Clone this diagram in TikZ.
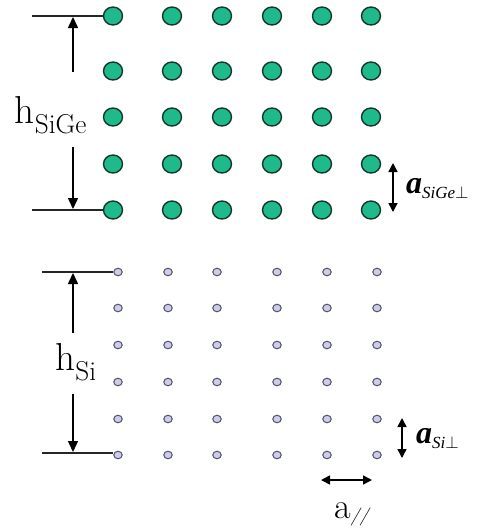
\documentclass[tikz,border=0pt]{standalone}
\usepackage{fontspec}
\newfontfamily\timesf{Liberation Serif}
\usetikzlibrary{arrows.meta,shapes.geometric}
\definecolor{sigegreen}{RGB}{30,186,140}
\definecolor{sigeedge}{RGB}{20,55,40}
\definecolor{silav}{RGB}{205,205,235}
\definecolor{siedge}{RGB}{80,80,105}
\tikzset{
  gdot/.style={ellipse,draw=sigeedge,fill=sigegreen,line width=1.4pt,minimum width=19pt,minimum height=18pt,inner sep=0pt},
  sdot/.style={ellipse,draw=siedge,fill=silav,line width=1pt,minimum width=8.5pt,minimum height=7.5pt,inner sep=0pt},
  refline/.style={line width=1.5pt,draw=black!85},
  darr/.style={line width=1.5pt,-{Triangle[length=11pt,width=10pt]}},
  dbl/.style={line width=1.5pt,{Triangle[length=9pt,width=9pt]}-{Triangle[length=9pt,width=9pt]}},
}
\begin{document}
\begin{tikzpicture}[x=1pt,y=-1pt]
\useasboundingbox (0,0) rectangle (481,531);
% SiGe lattice
\foreach \c/\x in {1/113,2/172,3/222,4/272,5/322,6/371}{
  \foreach \r/\y in {1/16,2/71,3/117,4/164,5/210}{
    \node[gdot] (g-\r-\c) at (\x,\y) {};
  }
}
% Si lattice
\foreach \c/\x in {1/118,2/168,3/217,4/277,5/327,6/377}{
  \foreach \r/\y in {1/272,2/308,3/345,4/382,5/419,6/455}{
    \node[sdot] (s-\r-\c) at (\x,\y) {};
  }
}
% h_SiGe
\coordinate (gtl) at (32,16);
\coordinate (gbl) at (32,210);
\draw[refline] (gtl) -- (g-1-1.west);
\draw[refline] (gbl) -- (g-5-1.west);
\node[anchor=base,inner sep=0pt,font=\fontsize{39}{41}\selectfont] (hsige) at (51,123) {$\mathrm{h}_{\mathrm{SiGe}}$};
\coordinate (gu0) at (73,72);
\coordinate (gu1) at (73,17);
\coordinate (gd0) at (73,147);
\coordinate (gd1) at (73,209);
\draw[darr] (gu0) -- (gu1);
\draw[darr] (gd0) -- (gd1);
% h_Si
\coordinate (stl) at (42,272);
\coordinate (sbl) at (42,453);
\draw[refline] (stl) -- (stl -| s-1-1.west);
\draw[refline] (sbl) -- (sbl -| s-6-1.west);
\node[anchor=base,inner sep=0pt,font=\fontsize{39}{41}\selectfont] (hsi) at (76,370) {$\mathrm{h}_{\mathrm{Si}}$};
\coordinate (su0) at (73,333);
\coordinate (su1) at (73,273);
\coordinate (sd0) at (73,394);
\coordinate (sd1) at (73,452);
\draw[darr] (su0) -- (su1);
\draw[darr] (sd0) -- (sd1);
% a_SiGe perp
\coordinate (ap0) at (393,163);
\coordinate (ap1) at (393,212);
\draw[dbl] (ap0) -- (ap1);
\node[anchor=base west,inner sep=0pt] (asige) at (406,193) {\timesf\fontsize{32}{34}\selectfont\bfseries\itshape a\raisebox{-5pt}{\mdseries\fontsize{17}{18}\selectfont SiGe$\perp$}};
% a_Si perp
\coordinate (as0) at (402,418);
\coordinate (as1) at (402,458);
\draw[dbl] (as0) -- (as1);
\node[anchor=base west,inner sep=0pt] (asi) at (416,443) {\timesf\fontsize{32}{34}\selectfont\bfseries\itshape a\raisebox{-5pt}{\mdseries\fontsize{17}{18}\selectfont Si$\perp$}};
% a_parallel
\coordinate (ah0) at (321,480);
\coordinate (ah1) at (372,480);
\draw[dbl] (ah0) -- (ah1);
\node[anchor=base west,inner sep=0pt] (apar) at (334,518) {\fontsize{36}{38}\selectfont a\raisebox{-3pt}{\fontsize{18}{20}\selectfont\itshape //}};
\end{tikzpicture}
\end{document}
